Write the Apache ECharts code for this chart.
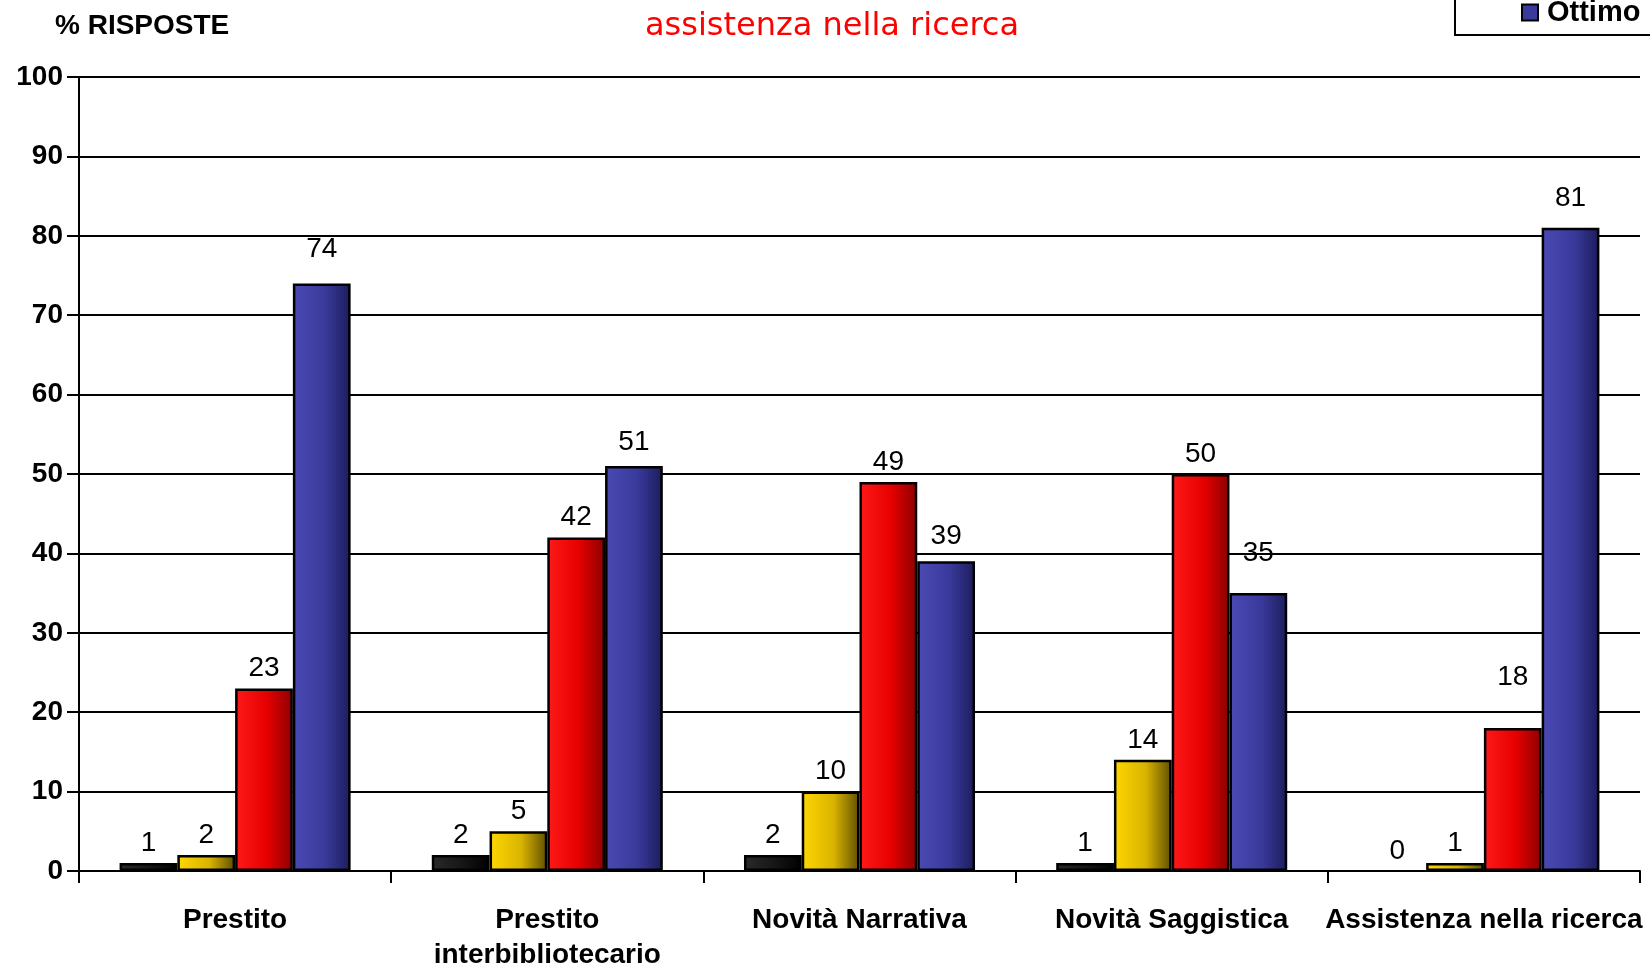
<!DOCTYPE html>
<html>
<head>
<meta charset="utf-8">
<script src="https://cdn.jsdelivr.net/npm/echarts@6/dist/echarts.min.js"></script>
<style>
  html, body { margin: 0; padding: 0; background: #fff; }
  #chart { width: 1650px; height: 968px; }
</style>
</head>
<body>
<div id="chart"></div>
<script>
// data
const categories = ['Prestito', 'Prestito\ninterbibliotecario', 'Novità Narrativa', 'Novità Saggistica', 'Assistenza nella ricerca'];
const seriesNames = ['Scarso', 'Sufficiente', 'Buono', 'Ottimo'];
const scarso = [1, 2, 2, 1, 0];
const sufficiente = [2, 5, 10, 14, 1];
const buono = [23, 42, 49, 50, 18];
const ottimo = [74, 51, 39, 35, 81];

let myChart = echarts.init(document.getElementById('chart'));

// horizontal shading of the bars, light on the left, dark on the right
function shade(c1, c2, c3) {
    return new echarts.graphic.LinearGradient(0, 0, 1, 0, [
        { offset: 0, color: c1 },
        { offset: 0.55, color: c2 },
        { offset: 1, color: c3 }
    ]);
}
const fills = [
    shade('#2a2a2a', '#151515', '#000000'),
    shade('#ffd700', '#d9b400', '#5e4e00'),
    shade('#ff1a1a', '#e60000', '#8c0000'),
    shade('#4a4ab4', '#3a3a9c', '#1c1c5c')
];

const font = 'Liberation Sans, Arial, sans-serif';
const allData = [scarso, sufficiente, buono, ottimo];

// some labels were dragged up by hand in the original, extra lift in px
const labelLift = {
    '2-4': 31,
    '3-0': 14, '3-1': 4, '3-2': 5, '3-3': 20, '3-4': 10
};
const baseDistance = 6;

let series = allData.map(function (vals, i) {
    return {
        name: seriesNames[i],
        type: 'bar',
        data: vals.map(function (v, j) {
            let lift = labelLift[i + '-' + j] || 0;
            let item = { value: v, label: { distance: baseDistance + lift } };
            if (v === 0) item.itemStyle = { borderWidth: 0 };   // no flat outline for empty bars
            return item;
        }),
        barGap: '0%',
        barCategoryGap: '26%',
        itemStyle: { color: fills[i], borderColor: '#000', borderWidth: 2.5 },
        label: {
            show: true,
            position: 'top',
            distance: baseDistance,
            color: '#000',
            fontFamily: font,
            fontSize: 28
        }
    };
});

myChart.setOption({
    backgroundColor: '#fff',
    animation: false,
    title: [
        {
            text: 'assistenza nella ricerca',
            left: 827,
            textAlign: 'center',
            top: 6,
            textStyle: { color: '#ff0000', fontFamily: 'DejaVu Sans', fontWeight: 'normal', fontSize: 32 }
        },
        {
            text: '% RISPOSTE',
            left: 50,
            top: 7,
            textStyle: { color: '#000', fontFamily: font, fontWeight: 'bold', fontSize: 28 }
        }
    ],
    legend: {
        data: ['Ottimo'],
        left: 1455,
        top: -12,
        padding: [10, 40, 8, 66],
        itemWidth: 16,
        itemHeight: 16,
        itemGap: 10,
        icon: 'rect',
        borderColor: '#000',
        borderWidth: 2,
        itemStyle: { borderColor: '#000', borderWidth: 2, color: '#3a3a9c' },
        textStyle: { color: '#000', fontFamily: font, fontWeight: 'bold', fontSize: 29, padding: [0, 0, 0, 4] }
    },
    grid: { left: 79, right: 10, top: 77, bottom: 97, outerBoundsMode: 'none' },
    xAxis: {
        type: 'category',
        data: categories,
        axisLine: { lineStyle: { color: '#000', width: 2 } },
        axisTick: { show: true, length: 12, lineStyle: { color: '#000', width: 2 } },
        axisLabel: {
            color: '#000',
            fontFamily: font,
            fontWeight: 'bold',
            fontSize: 28,
            lineHeight: 35,
            margin: 32,
            interval: 0
        }
    },
    yAxis: {
        type: 'value',
        min: 0,
        max: 100,
        interval: 10,
        axisLine: { show: true, lineStyle: { color: '#000', width: 2 } },
        axisTick: { show: true, length: 12, lineStyle: { color: '#000', width: 2 } },
        splitLine: { lineStyle: { color: '#000', width: 2 } },
        axisLabel: {
            color: '#000',
            fontFamily: font,
            fontWeight: 'bold',
            fontSize: 28,
            margin: 16
        }
    },
    series: series
});

window.addEventListener('resize', function () {
    myChart.resize();
});
</script>
</body>
</html>
